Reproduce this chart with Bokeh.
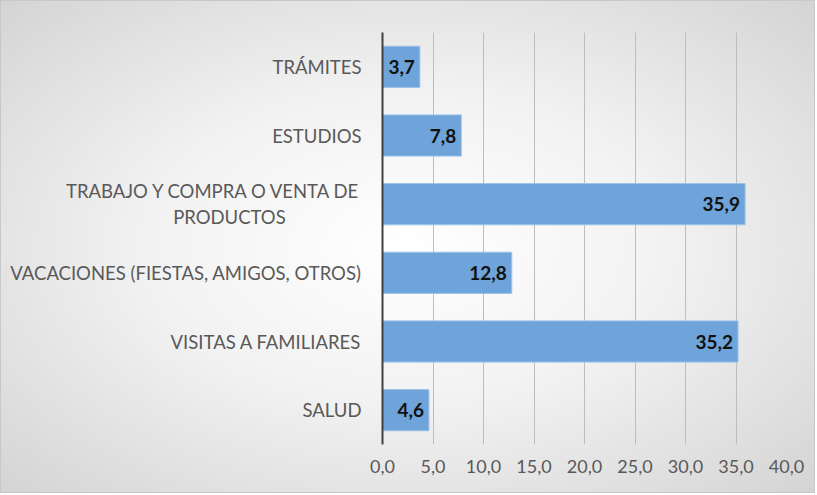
from bokeh.plotting import figure
from bokeh.models import FactorRange, CustomJSTickFormatter, ColumnDataSource, FixedTicker
from bokeh.core.properties import value
from bokeh.embed import file_html
from bokeh.resources import INLINE

categories = [
    "SALUD",
    "VISITAS A FAMILIARES",
    "VACACIONES (FIESTAS, AMIGOS, OTROS)",
    "TRABAJO Y COMPRA O VENTA DE\nPRODUCTOS" + "\u00a0" * 16,
    "ESTUDIOS",
    "TRÁMITES",
]
values = [4.6, 35.2, 12.8, 35.9, 7.8, 3.7]
x_ticks = [0, 5, 10, 15, 20, 25, 30, 35, 40]

labels = [("%.1f" % v).replace(".", ",") for v in values]
src = ColumnDataSource(dict(cat=categories, val=values, lab=labels))

W, H = 815, 493
p = figure(
    width=W, height=H,
    y_range=FactorRange(*categories),
    x_range=(0, 40),
    output_backend="svg",
    toolbar_location=None,
    min_border_left=381, min_border_right=30,
    min_border_top=31, min_border_bottom=50,
)
p.styles = {"background": "radial-gradient(ellipse at center, #ffffff 0%, #f2f2f2 45%, #d4d4d4 100%)",
            "border": "1px solid #c8c8c8"}
p.border_fill_alpha = 0
p.background_fill_alpha = 0
p.outline_line_color = None

p.hbar(y="cat", right="val", left=0, height=0.6, source=src,
       fill_color="#6ea4d9", line_color="#9cc3e8", line_width=1)

p.text(x="val", y="cat", text="lab", source=src, x_offset=-5,
       text_align="right", text_baseline="middle",
       text_font=value("Lato"), text_font_style="bold",
       text_font_size="19px", text_color="#111111")

p.xgrid.grid_line_color = "#bdbdbd"
p.xgrid.grid_line_width = 1
p.xgrid.ticker = FixedTicker(ticks=x_ticks)
p.ygrid.grid_line_color = None

p.xaxis.ticker = FixedTicker(ticks=x_ticks)
p.xaxis.formatter = CustomJSTickFormatter(code="return tick.toFixed(1).replace('.', ',');")
p.xaxis.axis_line_color = None
p.xaxis.major_tick_line_color = None
p.xaxis.minor_tick_line_color = None
p.xaxis.major_label_text_font = "Lato"
p.xaxis.major_label_text_font_size = "18px"
p.xaxis.major_label_text_color = "#595959"
p.xaxis.major_label_standoff = 9

p.yaxis.axis_line_color = "#404040"
p.yaxis.axis_line_width = 2
p.yaxis.major_tick_line_color = None
p.yaxis.minor_tick_line_color = None
p.yaxis.major_label_text_font = "Lato"
p.yaxis.major_label_text_font_size = "18.5px"
p.yaxis.major_label_text_color = "#595959"
p.yaxis.major_label_standoff = 15

open("out.html", "w").write(file_html(p, INLINE))
